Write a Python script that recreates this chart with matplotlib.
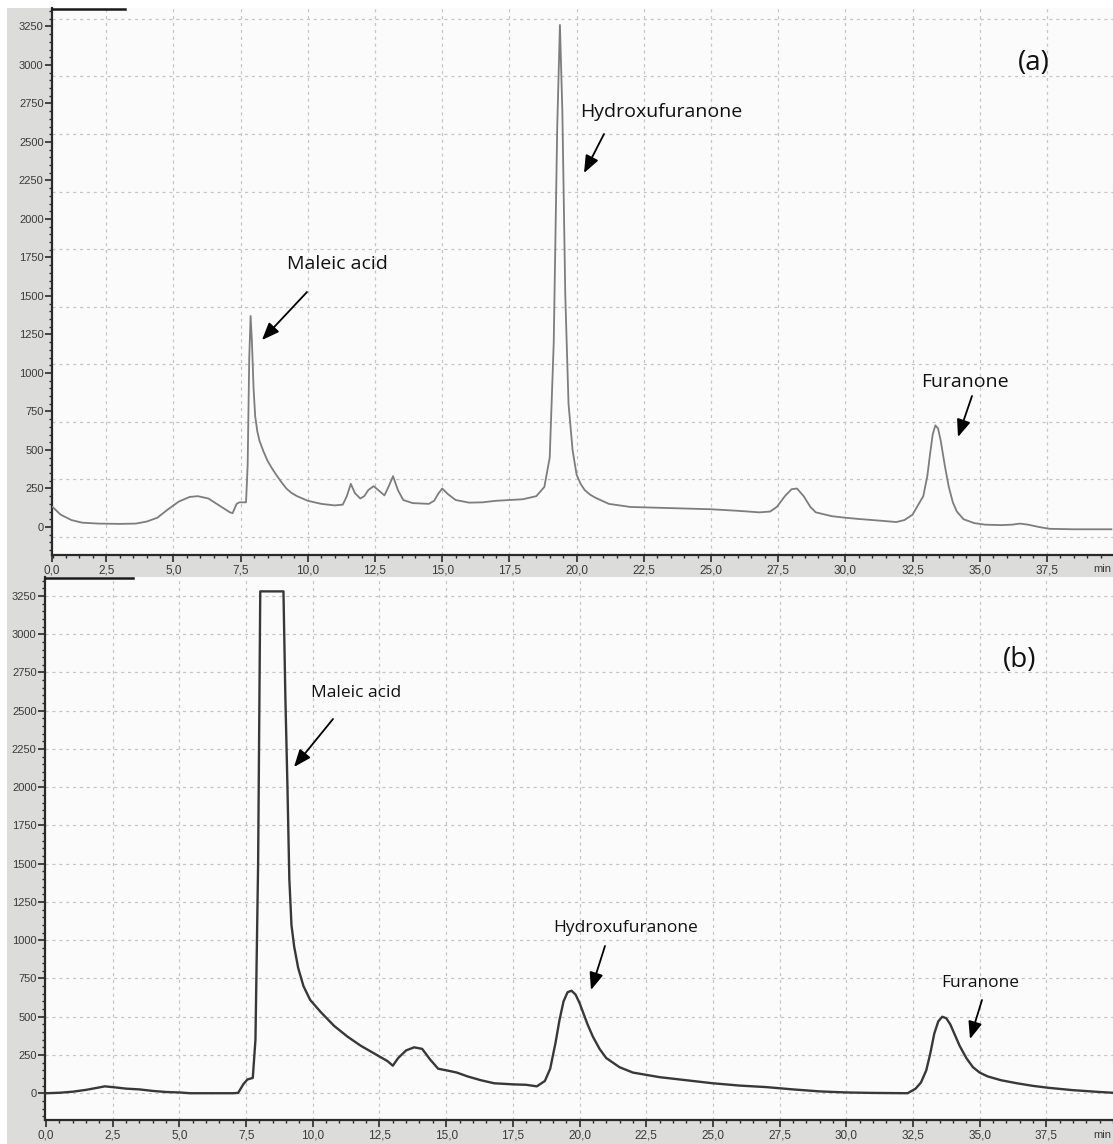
import numpy as np
import matplotlib
matplotlib.use("Agg")
import matplotlib.pyplot as plt
from matplotlib.patches import Rectangle, FancyArrowPatch
from matplotlib.lines import Line2D
from matplotlib.ticker import FixedLocator, MultipleLocator

# ---------------- data ----------------
time_a = [0.50, 0.8, 1.2, 1.6, 2.2, 3.0, 3.6, 4.0, 4.4, 4.8, 5.2, 5.6, 5.9, 6.3, 6.7, 7.1, 7.2,
          7.35, 7.45, 7.7, 7.76, 7.82, 7.87, 7.92, 7.98, 8.04, 8.12, 8.2, 8.35, 8.5, 8.65, 8.8,
          9.0, 9.2, 9.4, 9.6, 9.8, 10.0,
          10.5, 11.0, 11.3, 11.45, 11.6, 11.75, 11.95, 12.1, 12.25, 12.45, 12.65, 12.85, 13.0, 13.17,
          13.35, 13.55, 13.9, 14.5, 14.7, 14.85, 15.0, 15.2, 15.5, 16.0, 16.5, 17.0, 17.5, 18.0, 18.5,
          18.8, 19.0, 19.15, 19.28, 19.38, 19.47, 19.58, 19.7, 19.85, 20.0, 20.15, 20.3, 20.5, 20.7,
          21.2, 22.0, 23.0, 24.0, 25.0, 26.0, 26.8, 27.2, 27.45, 27.75, 28.0, 28.2, 28.45, 28.7,
          28.9, 29.5, 30.0, 30.5, 31.0, 31.5, 31.9, 32.2, 32.5, 32.7, 32.9, 33.05, 33.15, 33.25,
          33.35, 33.45, 33.55, 33.7, 33.85, 34.0, 34.15, 34.4, 34.8, 35.2, 35.8, 36.2, 36.5, 36.8,
          37.2, 37.6, 38.5, 39.9]
signal_a = [130, 80, 45, 28, 22, 20, 22, 35, 60, 115, 165, 195, 200, 185, 140, 95, 90,
            150, 160, 160, 400, 1100, 1370, 1200, 900, 720, 620, 560, 490, 430, 385, 345,
            295, 250, 220, 200, 185, 170,
            150, 140, 145, 200, 280, 220, 185, 200, 240, 265, 235, 205, 260, 330,
            240, 175, 155, 150, 170, 215, 250, 215, 175, 158, 160, 170, 175, 180, 200,
            260, 450, 1200, 2600, 3260, 2700, 1500, 800, 500, 340, 280, 240, 210, 190,
            150, 130, 125, 120, 115, 105, 95, 100, 130, 200, 245, 250, 200, 130,
            95, 70, 60, 52, 45, 38, 32, 45, 80, 140, 200, 330, 470, 600,
            660, 640, 560, 400, 260, 160, 100, 50, 25, 15, 12, 15, 22, 15,
            0, -12, -15, -15]

time_b = [0.0, 0.5, 1.0, 1.5, 2.0, 2.2, 2.6, 3.0, 3.5, 4.0, 4.5, 5.0, 5.4, 6.0, 7.0, 7.2, 7.4,
          7.55, 7.75, 7.85, 7.95, 8.03, 8.9, 8.97, 9.05, 9.12, 9.2, 9.3, 9.45, 9.65, 9.9, 10.3,
          10.8, 11.3, 11.8, 12.3, 12.8, 13.0, 13.2, 13.5, 13.8, 14.1, 14.4, 14.7, 15.0, 15.4,
          15.8, 16.3, 16.8, 17.5, 18.0, 18.4, 18.7, 18.9, 19.1, 19.25, 19.4, 19.55, 19.7, 19.85,
          20.0, 20.15, 20.3, 20.5, 20.75, 21.0, 21.5, 22.0, 23.0, 24.0, 25.0, 26.0, 27.0, 28.0,
          29.0, 30.0, 31.0, 32.3, 32.6, 32.8, 33.0, 33.15, 33.3, 33.45, 33.6, 33.75, 33.9, 34.05,
          34.25, 34.5, 34.75, 35.0, 35.3, 35.8, 36.4, 37.0, 37.6, 38.5, 39.5, 40.0]
signal_b = [0, 3, 10, 22, 38, 45, 38, 30, 25, 15, 8, 5, 0, 0, 0, 2, 60,
            90, 100, 350, 1500, 3280, 3280, 2600, 2000, 1400, 1100, 960, 820, 700, 610, 530,
            440, 370, 310, 260, 210, 180, 230, 280, 300, 290, 220, 160, 150, 135,
            110, 85, 65, 58, 55, 45, 80, 160, 330, 480, 600, 660, 670, 645,
            590, 520, 450, 370, 290, 230, 170, 135, 105, 85, 65, 50, 40, 25,
            12, 5, 2, 0, 30, 70, 150, 260, 390, 470, 500, 490, 450, 390,
            310, 230, 170, 135, 110, 85, 65, 48, 35, 20, 8, 3]

x_major = [2.5, 5.0, 7.5, 10.0, 12.5, 15.0, 17.5, 20.0, 22.5, 25.0, 27.5, 30.0, 32.5, 35.0, 37.5]
y_major = [0, 250, 500, 750, 1000, 1250, 1500, 1750, 2000, 2250, 2500, 2750, 3000, 3250]
peak_labels = ["Maleic acid", "Hydroxufuranone", "Furanone"]
panel_labels = ["(a)", "(b)"]

# ---------------- layout ----------------
W, H = 1113, 1144
fig = plt.figure(figsize=(W / 100, H / 100), dpi=100)
fig.patch.set_facecolor("white")
fig.patches.append(Rectangle((7 / W, 0), 1, (H - 8) / H, transform=fig.transFigure,
                             facecolor="#dcdcda", edgecolor="none", zorder=-10))


def px_axes(l, t, r, b):
    return fig.add_axes([l / W, 1 - b / H, (r - l) / W, (b - t) / H])


def fmt(v):
    return f"{v:.1f}".replace(".", ",")


tick_color = "#3a3a3a"
label_font = "Liberation Sans"
annot_font = ["Open Sans", "DejaVu Sans"]
grid_kw = dict(color="#c6c6c6", lw=0.9, ls=(0, (2.5, 3)), zorder=0.5)


def style_axes(ax, xlim, ylim, xticks, xlabels):
    ax.set_facecolor("#fbfbfb")
    ax.set_xlim(*xlim)
    ax.set_ylim(*ylim)
    for s in ["top", "right"]:
        ax.spines[s].set_visible(False)
    for s in ["left", "bottom"]:
        ax.spines[s].set_color("#2a2a2a")
        ax.spines[s].set_linewidth(1.6)
    ax.xaxis.set_major_locator(FixedLocator(xticks))
    ax.set_xticklabels(xlabels, fontsize=8.5, color=tick_color, family=label_font)
    ax.xaxis.set_minor_locator(MultipleLocator(0.5))
    ax.yaxis.set_major_locator(FixedLocator(y_major))
    ax.set_yticklabels([str(v) for v in y_major], fontsize=8, color=tick_color, family=label_font)
    ax.yaxis.set_minor_locator(MultipleLocator(50))
    ax.tick_params(axis="both", which="major", direction="out", length=5, width=1.2,
                   color="#2a2a2a")
    ax.tick_params(axis="both", which="minor", direction="out", length=2.5, width=1.0,
                   color="#2a2a2a")
    ax.tick_params(axis="x", which="major", pad=2)
    ax.tick_params(axis="y", which="major", pad=1)
    for xv in x_major:
        ax.axvline(xv, **grid_kw)


# ---- top panel (a)
ax_a = px_axes(52, 8, 1113, 555)
style_axes(ax_a, (0.48, 39.96), (-182, 3370), [0.48] + x_major,
           ["0,0"] + [fmt(v) for v in x_major])
for yv in np.arange(-65, 3370, 373.8):
    ax_a.axhline(yv, **grid_kw)
ax_a.plot(time_a, signal_a, color="#7d7d7d", lw=1.3, zorder=3)

# ---- bottom panel (b)
ax_b = px_axes(45, 577, 1113, 1120)
style_axes(ax_b, (-0.04, 40.0), (-175, 3374), [0.0] + x_major,
           ["0,0"] + [fmt(v) for v in x_major])
for yv in y_major:
    ax_b.axhline(yv, **grid_kw)
ax_b.plot(time_b, signal_b, color="#383838", lw=1.7, zorder=3)

# "min" unit labels
fig.text(1111 / W, 1 - 569 / H, "min", fontsize=8, color=tick_color, family=label_font,
         ha="right", va="center")
fig.text(1111 / W, 1 - 1135 / H, "min", fontsize=8, color=tick_color, family=label_font,
         ha="right", va="center")

# short frame tabs at the top-left of each panel
fig.add_artist(Line2D([52 / W, 125 / W], [1 - 8.5 / H, 1 - 8.5 / H], color="#1a1a1a", lw=1.8))
fig.add_artist(Line2D([45 / W, 133 / W], [1 - 577.5 / H, 1 - 577.5 / H], color="#1a1a1a", lw=1.8))

# ---------------- annotations ----------------
arrow_kw = dict(arrowstyle="-|>,head_length=0.75,head_width=0.3", mutation_scale=14,
                color="black", lw=1.3, shrinkA=0, shrinkB=0)


def label_arrow(text, text_px, tail_px, tip_px, size):
    fig.text(text_px[0] / W, 1 - text_px[1] / H, text, fontsize=size, family=annot_font,
             ha="center", va="center", color="#111111")
    fig.add_artist(FancyArrowPatch(
        (tail_px[0] / W, 1 - tail_px[1] / H), (tip_px[0] / W, 1 - tip_px[1] / H),
        transform=fig.transFigure, **arrow_kw))


label_arrow(peak_labels[0], (337, 264), (307, 292), (262, 340), 14)
label_arrow(peak_labels[1], (661, 112), (604, 134), (584, 173), 14)
label_arrow(peak_labels[2], (965, 382), (972, 396), (958, 437), 14)
fig.text(1034 / W, 1 - 63 / H, panel_labels[0], fontsize=20, family=annot_font,
         ha="center", va="center", color="#111111")

label_arrow(peak_labels[0], (356, 693), (333, 719), (294, 767), 12.5)
label_arrow(peak_labels[1], (626, 928), (605, 946), (591, 990), 12.5)
label_arrow(peak_labels[2], (980, 983), (982, 1000), (970, 1039), 12.5)
fig.text(1020 / W, 1 - 660 / H, panel_labels[1], fontsize=20, family=annot_font,
         ha="center", va="center", color="#111111")

fig.savefig("out.png", dpi=100, facecolor=fig.get_facecolor())
